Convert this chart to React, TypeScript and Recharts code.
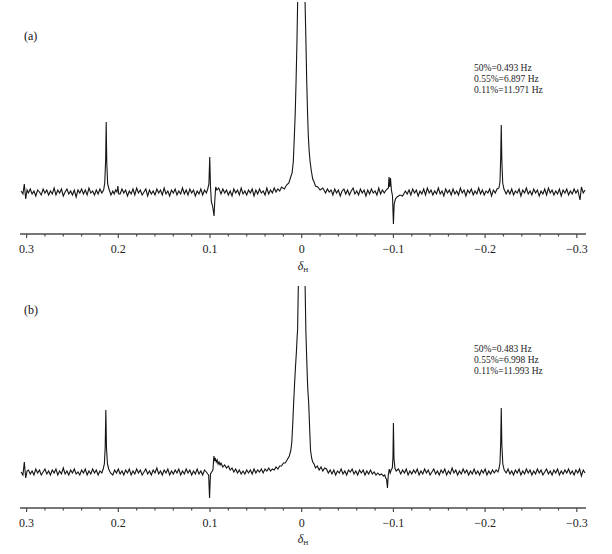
import { Label, Line, LineChart, XAxis, YAxis } from "recharts"

// chemical shift ticks, every 0.02 ppm; labels only on the 0.1 steps
const shiftTicks = [
  0.3, 0.28, 0.26, 0.24, 0.22, 0.2, 0.18, 0.16, 0.14, 0.12, 0.1, 0.08, 0.06, 0.04, 0.02, 0,
  -0.02, -0.04, -0.06, -0.08, -0.1, -0.12, -0.14, -0.16, -0.18, -0.2, -0.22, -0.24, -0.26, -0.28, -0.3,
]
const majorTicks = [0.3, 0.2, 0.1, 0, -0.1, -0.2, -0.3]

const panelLabels = ["(a)", "(b)"]
const notesA = ["50%=0.493 Hz", "0.55%=6.897 Hz", "0.11%=11.971 Hz"]
const notesB = ["50%=0.483 Hz", "0.55%=6.998 Hz", "0.11%=11.993 Hz"]

// [shift (ppm), intensity], baseline = 0
const spectrumA: [number, number][] = [
  [0.306, 1], [0.304, -2], [0.3025, 8], [0.301, -7], [0.2995, 2],
  [0.298, -1], [0.296, 3], [0.294, -2], [0.292, 1], [0.29, -4], [0.288, 2], [0.286, 0], [0.284, -3],
  [0.282, 3], [0.28, -1], [0.278, 2], [0.276, -3], [0.274, 1], [0.272, -2], [0.27, 4], [0.268, -3],
  [0.266, 2], [0.264, -1], [0.262, 3], [0.26, -4], [0.258, 0], [0.256, 3], [0.254, -2], [0.252, 1],
  [0.25, -3], [0.248, 2], [0.246, -5], [0.244, 2], [0.242, -1], [0.24, 3], [0.238, -2], [0.236, 2],
  [0.234, -3], [0.232, 4], [0.23, -1], [0.228, 1], [0.226, -3], [0.224, 2], [0.222, -2], [0.22, 3], [0.218, -1],
  [0.216, 2], [0.2148, 9], [0.2138, 32], [0.2132, 70], [0.2126, 30], [0.2116, 8], [0.2102, 3], [0.208, -3],
  [0.206, 1], [0.2045, -2], [0.203, 2], [0.2015, 0], [0.2005, 6], [0.1995, -2],
  [0.198, -2], [0.196, 3], [0.194, -1], [0.192, 2], [0.19, -4], [0.188, 1], [0.186, -2], [0.184, 3],
  [0.182, -3], [0.18, 4], [0.178, -1], [0.176, 2], [0.174, -3], [0.172, 0], [0.17, 3], [0.168, -4],
  [0.166, 2], [0.164, -2], [0.162, 1], [0.16, -3], [0.158, 3], [0.156, -1], [0.154, 2], [0.152, -3],
  [0.15, 4], [0.148, -2], [0.146, 1], [0.144, -4], [0.142, 2], [0.14, -1], [0.138, 3], [0.136, -3],
  [0.134, 1], [0.132, -2], [0.13, 4], [0.128, -2], [0.126, 2], [0.124, -3], [0.122, 3], [0.12, -1],
  [0.118, 2], [0.116, -4], [0.114, 1], [0.112, -2], [0.11, 3], [0.108, -3], [0.106, 2], [0.104, -1],
  [0.1025, 3], [0.1012, 8], [0.1003, 35], [0.0995, 6], [0.0985, -10], [0.0972, -14], [0.0962, -20], [0.0956, -24],
  [0.0948, -9], [0.0938, 5], [0.0925, 2], [0.0905, 4],
  [0.088, -2], [0.086, 3], [0.084, -1], [0.082, 2], [0.08, -3], [0.078, 1], [0.076, -4], [0.074, 3],
  [0.072, -1], [0.07, 2], [0.068, -3], [0.066, 4], [0.064, -2], [0.062, 1], [0.06, -3], [0.058, 2],
  [0.056, -1], [0.054, 3], [0.052, -4], [0.05, 2], [0.048, -2], [0.046, 3], [0.044, -1], [0.042, 1],
  [0.04, -3], [0.038, 4], [0.036, -2], [0.034, 2], [0.032, -1], [0.03, 4], [0.028, 0], [0.026, 3],
  [0.024, 1], [0.022, 5],
  [0.019, 3], [0.0165, 7], [0.014, 9], [0.012, 15], [0.0105, 19], [0.0092, 30], [0.0082, 52], [0.0071, 78],
  [0.0062, 109], [0.0052, 150], [0.0044, 192], [0.0035, 300], [0.0025, 600], [0.0012, 1200], [0.0002, 1500],
  [-0.001, 1200], [-0.0022, 600], [-0.003, 320], [-0.0036, 192], [-0.0046, 150], [-0.0055, 109], [-0.0064, 78],
  [-0.0072, 56], [-0.0082, 40], [-0.0092, 30], [-0.0105, 21], [-0.012, 13], [-0.0135, 10], [-0.015, 6],
  [-0.0175, 5], [-0.02, 2], [-0.023, 4],
  [-0.026, -1], [-0.028, 3], [-0.03, 0], [-0.032, 2], [-0.034, -3], [-0.036, 3], [-0.038, -1], [-0.04, 2],
  [-0.042, -4], [-0.044, 1], [-0.046, 3], [-0.048, -2], [-0.05, 2], [-0.052, -3], [-0.054, 1], [-0.056, 4],
  [-0.058, -2], [-0.06, 1], [-0.062, -3], [-0.064, 3], [-0.066, -1], [-0.068, 2], [-0.07, -4], [-0.072, 2],
  [-0.074, -2], [-0.076, 3], [-0.078, -1], [-0.08, 1], [-0.082, -3], [-0.084, 4], [-0.086, -2], [-0.088, 2],
  [-0.09, -1], [-0.092, 2],
  [-0.0945, 4], [-0.0952, 15], [-0.096, 5], [-0.0968, 14], [-0.0978, 2], [-0.099, -4], [-0.1, -32], [-0.1008, -12],
  [-0.1022, -7], [-0.104, -5], [-0.107, -3], [-0.11, -4], [-0.113, 1],
  [-0.115, -2], [-0.117, 2], [-0.119, -3], [-0.121, 3], [-0.123, -1], [-0.125, 2], [-0.127, -4], [-0.129, 1],
  [-0.131, -2], [-0.133, 3], [-0.135, -3], [-0.137, 4], [-0.139, -1], [-0.141, 2], [-0.143, -3], [-0.145, 1],
  [-0.147, -2], [-0.149, 4], [-0.151, -2], [-0.153, 1], [-0.155, -4], [-0.157, 3], [-0.159, -1], [-0.161, 2],
  [-0.163, -3], [-0.165, 3], [-0.167, -2], [-0.169, 1], [-0.171, -3], [-0.173, 4], [-0.175, -1], [-0.177, 2],
  [-0.179, -4], [-0.181, 2], [-0.183, -1], [-0.185, 3], [-0.187, -3], [-0.189, 1], [-0.191, -2], [-0.193, 4],
  [-0.195, -2], [-0.197, 2], [-0.199, -3], [-0.201, 1], [-0.203, -1], [-0.205, 3], [-0.207, -4], [-0.209, 2],
  [-0.211, -1], [-0.213, 3], [-0.215, 4],
  [-0.2162, 10], [-0.217, 35], [-0.2176, 67], [-0.2182, 32], [-0.2192, 9], [-0.2205, 3], [-0.223, -2],
  [-0.225, 2], [-0.227, -2], [-0.229, 3], [-0.231, -3], [-0.233, 1], [-0.235, -1], [-0.237, 3], [-0.239, -4],
  [-0.241, 2], [-0.243, -1], [-0.245, 4], [-0.247, -2], [-0.249, 1], [-0.251, -3], [-0.253, 3], [-0.255, -1],
  [-0.257, 2], [-0.259, -4], [-0.261, 1], [-0.263, -2], [-0.265, 3], [-0.267, -3], [-0.269, 4], [-0.271, -1],
  [-0.273, 2], [-0.275, -3], [-0.277, 1], [-0.279, -2], [-0.281, 3], [-0.283, -4], [-0.285, 2], [-0.287, -1],
  [-0.289, 3], [-0.291, -3], [-0.293, 1], [-0.295, -2], [-0.297, 3], [-0.299, -1], [-0.301, 2],
  [-0.3035, -8], [-0.305, 5], [-0.307, -1], [-0.309, 2],
]

const spectrumB: [number, number][] = [
  [0.306, 0], [0.304, -3], [0.3025, 10], [0.301, -6], [0.2995, 1],
  [0.298, 2], [0.296, -2], [0.294, 1], [0.292, -3], [0.29, 3], [0.288, -1], [0.286, 2], [0.284, -3],
  [0.282, 0], [0.28, 3], [0.278, -2], [0.276, 1], [0.274, -3], [0.272, 2], [0.27, -1], [0.268, 3],
  [0.266, -3], [0.264, 1], [0.262, -2], [0.26, 4], [0.258, -2], [0.256, 1], [0.254, -3], [0.252, 2],
  [0.25, -1], [0.248, 3], [0.246, -2], [0.244, 0], [0.242, -3], [0.24, 2], [0.238, -1], [0.236, 3],
  [0.234, -3], [0.232, 1], [0.23, -2], [0.228, 3], [0.226, -1], [0.224, 2], [0.222, -3], [0.22, 1], [0.218, -1],
  [0.2165, 3], [0.2152, 8], [0.2143, 25], [0.2136, 62], [0.2129, 24], [0.2118, 8], [0.2105, 3], [0.2085, -1],
  [0.206, -3], [0.204, 2], [0.202, -1], [0.2, 3], [0.198, -2], [0.196, 1], [0.194, -3], [0.192, 2],
  [0.19, -1], [0.188, 3], [0.186, -3], [0.184, 1], [0.182, -2], [0.18, 3], [0.178, -1], [0.176, 2],
  [0.174, -3], [0.172, 0], [0.17, 3], [0.168, -2], [0.166, 1], [0.164, -3], [0.162, 2], [0.16, -1],
  [0.158, 4], [0.156, -2], [0.154, 1], [0.152, -3], [0.15, 2], [0.148, -1], [0.146, 3], [0.144, -3],
  [0.142, 1], [0.14, -2], [0.138, 2], [0.136, -1], [0.134, 3], [0.132, -3], [0.13, 1], [0.128, -2],
  [0.126, 3], [0.124, -1], [0.122, 2], [0.12, -3], [0.118, 1], [0.116, -2], [0.114, 3], [0.112, -2],
  [0.11, 1], [0.108, -3], [0.106, 2], [0.104, 0],
  [0.1025, -2], [0.1015, -3], [0.1005, -26], [0.0995, -2], [0.0982, 0], [0.0968, 2], [0.0958, 16], [0.095, 11],
  [0.0942, 14], [0.0932, 10], [0.0922, 12], [0.0912, 8], [0.0902, 10], [0.089, 7], [0.088, 9], [0.086, 5],
  [0.084, 7], [0.082, 4], [0.08, 6], [0.078, 2], [0.076, 4], [0.074, 0], [0.072, 3], [0.07, -1],
  [0.068, 2], [0.066, -2], [0.064, 1], [0.062, -2], [0.06, 2], [0.058, -1], [0.056, 2], [0.054, -2],
  [0.052, 3], [0.05, -1], [0.048, 2], [0.046, 0], [0.044, 3], [0.042, -1], [0.04, 3], [0.038, 1],
  [0.036, 4], [0.034, 1], [0.032, 3], [0.03, 2], [0.028, 5], [0.026, 3], [0.024, 6], [0.022, 6],
  [0.02, 9], [0.018, 9], [0.016, 12], [0.0135, 16], [0.0118, 22], [0.0108, 30], [0.0098, 48], [0.0088, 69],
  [0.0078, 88], [0.0068, 105], [0.0058, 120], [0.005, 135], [0.0045, 142], [0.0037, 186], [0.0028, 330],
  [0.0015, 800], [0.0003, 1300], [-0.0009, 900], [-0.0022, 420], [-0.003, 250], [-0.0037, 186], [-0.0045, 142],
  [-0.0055, 112], [-0.0065, 85], [-0.0076, 69], [-0.0086, 45], [-0.0096, 22], [-0.0108, 14], [-0.012, 10],
  [-0.0135, 8], [-0.015, 4], [-0.017, 6], [-0.019, 2], [-0.021, 5], [-0.023, 1], [-0.025, 4],
  [-0.027, 3], [-0.029, -1], [-0.031, 2], [-0.033, -2], [-0.035, 2], [-0.037, -3], [-0.039, 1], [-0.041, -1],
  [-0.043, 3], [-0.045, -2], [-0.047, 1], [-0.049, -3], [-0.051, 2], [-0.053, 0], [-0.055, 3], [-0.057, -2],
  [-0.059, 1], [-0.061, -3], [-0.063, 2], [-0.065, -1], [-0.067, 2], [-0.069, -3], [-0.071, 1], [-0.073, -2],
  [-0.075, 2], [-0.077, -2], [-0.079, 0], [-0.081, -3], [-0.083, -1], [-0.085, -3], [-0.087, -2], [-0.089, -4],
  [-0.0905, -3], [-0.0915, -6], [-0.0925, -7], [-0.0935, -16], [-0.0944, -3], [-0.0955, 3], [-0.0965, -1],
  [-0.0975, 2], [-0.0988, 4], [-0.0995, 15], [-0.1, 49], [-0.1006, 14], [-0.1016, 4], [-0.103, 1], [-0.1055, 3],
  [-0.108, -2], [-0.11, 2], [-0.112, -1], [-0.114, 3], [-0.116, -3], [-0.118, 1], [-0.12, -2], [-0.122, 2],
  [-0.124, -1], [-0.126, 3], [-0.128, -3], [-0.13, 1], [-0.132, -2], [-0.134, 3], [-0.136, -1], [-0.138, 2],
  [-0.14, -3], [-0.142, 0], [-0.144, 3], [-0.146, -2], [-0.148, 1], [-0.15, -3], [-0.152, 2], [-0.154, -1],
  [-0.156, 3], [-0.158, -3], [-0.16, 1], [-0.162, -2], [-0.164, 4], [-0.166, -1], [-0.168, 2], [-0.17, -3],
  [-0.172, 1], [-0.174, -2], [-0.176, 3], [-0.178, -1], [-0.18, 2], [-0.182, -3], [-0.184, 1], [-0.186, -2],
  [-0.188, 3], [-0.19, -2], [-0.192, 1], [-0.194, -3], [-0.196, 2], [-0.198, -1], [-0.2, 3], [-0.202, -3],
  [-0.204, 1], [-0.206, -2], [-0.208, 2], [-0.21, -1], [-0.212, 2], [-0.214, 0], [-0.215, 3],
  [-0.2162, 9], [-0.217, 30], [-0.2176, 64], [-0.2182, 28], [-0.2193, 8], [-0.2208, 2], [-0.223, -1],
  [-0.225, 3], [-0.227, -2], [-0.229, 1], [-0.231, -3], [-0.233, 2], [-0.235, -1], [-0.237, 3], [-0.239, -3],
  [-0.241, 1], [-0.243, -2], [-0.245, 3], [-0.247, -1], [-0.249, 2], [-0.251, -3], [-0.253, 1], [-0.255, -2],
  [-0.257, 3], [-0.259, -1], [-0.261, 2], [-0.263, -3], [-0.265, 0], [-0.267, 3], [-0.269, -2], [-0.271, 1],
  [-0.273, -3], [-0.275, 2], [-0.277, -1], [-0.279, 3], [-0.281, -3], [-0.283, 1], [-0.285, -2], [-0.287, 2],
  [-0.289, -1], [-0.291, 3], [-0.293, -2], [-0.295, 1], [-0.297, -3], [-0.299, 2], [-0.301, -1], [-0.303, 3],
  [-0.305, -4], [-0.307, 2], [-0.309, -1],
]

const serif = "'Liberation Serif', 'Times New Roman', serif"
const ink = "#151515"
const axisColor = "#4a4a4a"

const isMajor = (v: number) => majorTicks.some((m) => Math.abs(m - v) < 1e-6)
const fmtShift = (v: number) => (Math.abs(v) < 1e-9 ? "0" : v < 0 ? "\u2212" + Math.abs(v) : String(v))

function ShiftTick({ x, y, payload }: any) {
  const v = payload.value as number
  const major = isMajor(v)
  return (
    <g>
      <line x1={x} x2={x} y1={y} y2={y + (major ? 4 : 2.5)} stroke={axisColor} strokeWidth={1.2} />
      {major && (
        <text x={x} y={y + 19} textAnchor="middle" fontFamily={serif} fontSize={12} fill="#222">
          {fmtShift(v)}
        </text>
      )}
    </g>
  )
}

function DeltaLabel({ viewBox, dy }: any) {
  const cx = viewBox.x + viewBox.width / 2
  return (
    <text x={cx} y={viewBox.y + dy} textAnchor="middle" fontFamily={serif} fontSize={12} fill="#222">
      <tspan fontStyle="italic">δ</tspan>
      <tspan fontSize={7} dy={2}>H</tspan>
    </text>
  )
}

type PanelProps = {
  rows: { shift: number; value: number }[]
  height: number
  top: number
  yDomain: [number, number]
  label: string
  notes: string[]
  labelY: number
  notesY: number
  deltaDy: number
}

function SpectrumPanel({ rows, height, top, yDomain, label, notes, labelY, notesY, deltaDy }: PanelProps) {
  return (
    <LineChart width={612} height={height} data={rows} margin={{ top, right: 26, bottom: 6, left: 20 }}>
      <XAxis
        dataKey="shift"
        type="number"
        domain={[-0.31, 0.3072]}
        reversed
        allowDataOverflow
        ticks={shiftTicks}
        interval={0}
        height={40}
        tickSize={0}
        tickMargin={0}
        tickLine={false}
        tick={<ShiftTick />}
        axisLine={{ stroke: axisColor, strokeWidth: 1.6 }}
      >
        <Label content={(p: any) => <DeltaLabel {...p} dy={deltaDy} />} />
      </XAxis>
      <YAxis hide type="number" domain={yDomain} allowDataOverflow />
      <Line
        type="linear"
        dataKey="value"
        stroke={ink}
        strokeWidth={1.1}
        dot={false}
        activeDot={false}
        isAnimationActive={false}
      />
      <text x={24} y={labelY} fontFamily={serif} fontSize={12} fill="#111">
        {label}
      </text>
      <text fontFamily={serif} fontSize={9.5} fill="#222">
        {notes.map((n, i) => (
          <tspan key={n} x={474} y={notesY + i * 11}>
            {n}
          </tspan>
        ))}
      </text>
    </LineChart>
  )
}

export default function App() {
  const rowsA = spectrumA.map(([shift, value]) => ({ shift, value }))
  const rowsB = spectrumB.map(([shift, value]) => ({ shift, value }))
  return (
    <div style={{ position: "absolute", left: 0, top: 0, width: 612, height: 554, background: "#fff" }}>
      <SpectrumPanel
        rows={rowsA}
        height={280}
        top={2}
        yDomain={[-42, 190]}
        label={panelLabels[0]}
        notes={notesA}
        labelY={40}
        notesY={71}
        deltaDy={36}
      />
      <SpectrumPanel
        rows={rowsB}
        height={274}
        top={6}
        yDomain={[-36, 186]}
        label={panelLabels[1]}
        notes={notesB}
        labelY={34}
        notesY={72}
        deltaDy={35}
      />
    </div>
  )
}
